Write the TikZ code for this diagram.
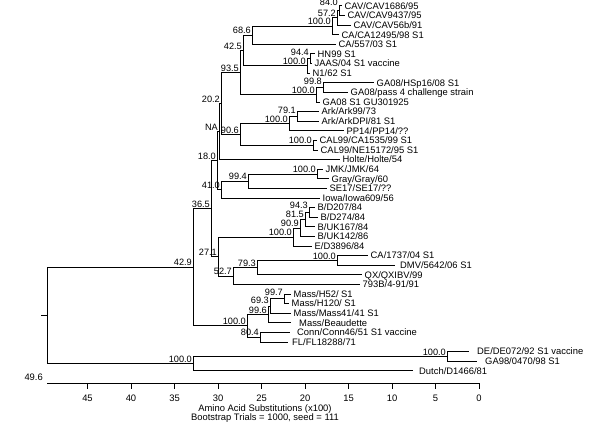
\documentclass[tikz,border=0pt]{standalone}
\usepackage{fontspec}
\setmainfont{Liberation Sans}
\begin{document}
\begin{tikzpicture}[x=1pt,y=-1pt,
  every node/.style={font=\fontsize{9.4}{10}\selectfont},
  leaf/.style={anchor=west, inner xsep=2.5pt, inner ysep=0pt, text height=6.73pt, text depth=0pt},
  bs/.style={anchor=south east, inner xsep=1pt, inner ysep=1.2pt, text height=6.6pt, text depth=0pt, font=\fontsize{9.2}{10}\selectfont},
  br/.style={line width=1pt},
]
\useasboundingbox (0,0) rectangle (600,428);

% leaves
\node[leaf] (L1) at (342,6) {CAV/CAV1686/95};
\node[leaf] (L2) at (345,15.6) {CAV/CAV9437/95};
\node[leaf] (L3) at (351,25.2) {CAV/CAV56b/91};
\node[leaf] (L4) at (339,34.8) {CA/CA12495/98 S1};
\node[leaf] (L5) at (336,44.4) {CA/557/03 S1};
\node[leaf] (L6) at (315,54) {HN99 S1};
\node[leaf] (L7) at (312,63.6) {JAAS/04 S1 vaccine};
\node[leaf] (L8) at (310,73.2) {N1/62 S1};
\node[leaf] (L9) at (374,82.8) {GA08/HSp16/08 S1};
\node[leaf] (L10) at (348,92.4) {GA08/pass 4 challenge strain};
\node[leaf] (L11) at (320,102) {GA08 S1 GU301925};
\node[leaf] (L12) at (319,111.6) {Ark/Ark99/73};
\node[leaf] (L13) at (319,121.2) {Ark/ArkDPI/81 S1};
\node[leaf] (L14) at (344,130.8) {PP14/PP14/??};
\node[leaf] (L15) at (317,140.4) {CAL99/CA1535/99 S1};
\node[leaf] (L16) at (318,150) {CAL99/NE15172/95 S1};
\node[leaf] (L17) at (340,159.6) {Holte/Holte/54};
\node[leaf] (L18) at (323,169.2) {JMK/JMK/64};
\node[leaf] (L19) at (329,178.8) {Gray/Gray/60};
\node[leaf] (L20) at (327,188.4) {SE17/SE17/??};
\node[leaf] (L21) at (320,198) {Iowa/Iowa609/56};
\node[leaf] (L22) at (315,207.6) {B/D207/84};
\node[leaf] (L23) at (318,217.2) {B/D274/84};
\node[leaf] (L24) at (315,226.8) {B/UK167/84};
\node[leaf] (L25) at (315,236.4) {B/UK142/86};
\node[leaf] (L26) at (312,246) {E/D3896/84};
\node[leaf] (L27) at (368,255.6) {CA/1737/04 S1};
\node[leaf, inner xsep=5pt] (L28) at (395,265.2) {DMV/5642/06 S1};
\node[leaf] (L29) at (362,274.8) {QX/QXIBV/99};
\node[leaf] (L30) at (360,284.4) {793B/4-91/91};
\node[leaf] (L31) at (291,294) {Mass/H52/ S1};
\node[leaf] (L32) at (289,303.6) {Mass/H120/ S1};
\node[leaf] (L33) at (291,313.2) {Mass/Mass41/41 S1};
\node[leaf, inner xsep=8pt] (L34) at (291,322.8) {Mass/Beaudette};
\node[leaf, inner xsep=7pt] (L35) at (290,332.4) {Conn/Conn46/51 S1 vaccine};
\node[leaf, inner xsep=4pt] (L36) at (288,342) {FL/FL18288/71};
\node[leaf, inner xsep=8pt] (L37) at (469,351.6) {DE/DE072/92 S1 vaccine};
\node[leaf, inner xsep=8pt] (L38) at (477,361.2) {GA98/0470/98 S1};
\node[leaf, inner xsep=6pt] (L39) at (413,370.8) {Dutch/D1466/81};

% internal nodes
\coordinate (root) at (47,315.3);
\coordinate (rt) at (41,315.3);
\coordinate (n429) at (193,267.2);
\coordinate (n100bot) at (193,363.6);
\coordinate (n100de) at (447,356.4);
\coordinate (n365) at (211,208.55);
\coordinate (n180) at (217,160.6);
\coordinate (nNA) at (219,131.6);
\coordinate (n202) at (221,103.6);
\coordinate (n935) at (240,72.75);
\coordinate (n425) at (243,50.7);
\coordinate (n686) at (252,35.4);
\coordinate (n100cav) at (332,26.4);
\coordinate (n572) at (337,18);
\coordinate (n840) at (339,10.8);
\coordinate (n100jaas) at (307,66);
\coordinate (n944) at (310,58.8);
\coordinate (n100ga) at (316,94.8);
\coordinate (n998) at (323,87.6);
\coordinate (n906) at (240,134.4);
\coordinate (n100ark) at (289,123.6);
\coordinate (n791) at (297,116.4);
\coordinate (n100cal) at (313,145.2);
\coordinate (n410) at (221,189.6);
\coordinate (n994) at (248,181.2);
\coordinate (n100jmk) at (317,174);
\coordinate (n271) at (218,256.5);
\coordinate (n100b) at (293,237);
\coordinate (n909) at (300,228);
\coordinate (n815) at (305,219.6);
\coordinate (n943) at (309,212.4);
\coordinate (n527) at (233,276);
\coordinate (n793) at (257,267.6);
\coordinate (n100ca) at (337,260.4);
\coordinate (n100mass) at (247,325.8);
\coordinate (n996) at (268,314.4);
\coordinate (n693) at (270,306);
\coordinate (n997) at (284,298.8);
\coordinate (n804) at (260,337.2);

% bootstrap labels
\node[anchor=east, inner sep=1pt] (b496) at (44,377) {49.6};
\node[bs] (b429) at (n429) {42.9};
\node[bs] (b100bot) at (n100bot) {100.0};
\node[bs] (b100de) at (n100de) {100.0};
\node[bs] (b365) at (n365) {36.5};
\node[bs] (b180) at (n180) {18.0};
\node[bs] (bNA) at (nNA) {NA};
\node[bs] (b202) at (n202) {20.2};
\node[bs] (b935) at (n935) {93.5};
\node[bs] (b425) at (n425) {42.5};
\node[bs] (b686) at (n686) {68.6};
\node[bs] (b100cav) at (n100cav) {100.0};
\node[bs] (b572) at (n572) {57.2};
\node[bs, yshift=3.5pt] (b840) at (n840) {84.0};
\node[bs] (b100jaas) at (n100jaas) {100.0};
\node[bs, yshift=2pt] (b944) at (n944) {94.4};
\node[bs] (b100ga) at (n100ga) {100.0};
\node[bs, yshift=1.5pt] (b998) at (n998) {99.8};
\node[bs] (b906) at (n906) {90.6};
\node[bs] (b100ark) at (n100ark) {100.0};
\node[bs, yshift=1.5pt] (b791) at (n791) {79.1};
\node[bs] (b100cal) at (n100cal) {100.0};
\node[bs] (b410) at (n410) {41.0};
\node[bs] (b994) at (n994) {99.4};
\node[bs] (b100jmk) at (n100jmk) {100.0};
\node[bs] (b271) at (n271) {27.1};
\node[bs] (b100b) at (n100b) {100.0};
\node[bs] (b909) at (n909) {90.9};
\node[bs, yshift=1pt] (b815) at (n815) {81.5};
\node[bs, yshift=2.5pt] (b943) at (n943) {94.3};
\node[bs] (b527) at (n527) {52.7};
\node[bs] (b793) at (n793) {79.3};
\node[bs] (b100ca) at (n100ca) {100.0};
\node[bs] (b100mass) at (n100mass) {100.0};
\node[bs] (b996) at (n996) {99.6};
\node[bs, yshift=1pt] (b693) at (n693) {69.3};
\node[bs, yshift=2pt] (b997) at (n997) {99.7};
\node[bs] (b804) at (n804) {80.4};

% branches
\begin{scope}[br]
\draw (rt) -- (root);
\draw (root) |- (n429); \draw (root) |- (n100bot);
\draw (n100bot) |- (n100de); \draw (n100bot) |- (L39.west);
\draw (n100de) |- (L37.west); \draw (n100de) |- (L38.west);
\draw (n429) |- (n365); \draw (n429) |- (n100mass);
\draw (n365) |- (n180); \draw (n365) |- (n271);
\draw (n180) |- (nNA); \draw (n180) |- (n410);
\draw (nNA) |- (n202); \draw (nNA) |- (L17.west);
\draw (n202) |- (n935); \draw (n202) |- (n906);
\draw (n935) |- (n425); \draw (n935) |- (n100ga);
\draw (n425) |- (n686); \draw (n425) |- (n100jaas);
\draw (n686) |- (n100cav); \draw (n686) |- (L5.west);
\draw (n100cav) |- (n572); \draw (n100cav) |- (L4.west);
\draw (n572) |- (n840); \draw (n572) |- (L3.west);
\draw (n840) |- (L1.west); \draw (n840) |- (L2.west);
\draw (n100jaas) |- (n944); \draw (n100jaas) |- (L8.west);
\draw (n944) |- (L6.west); \draw (n944) |- (L7.west);
\draw (n100ga) |- (n998); \draw (n100ga) |- (L11.west);
\draw (n998) |- (L9.west); \draw (n998) |- (L10.west);
\draw (n906) |- (n100ark); \draw (n906) |- (n100cal);
\draw (n100ark) |- (n791); \draw (n100ark) |- (L14.west);
\draw (n791) |- (L12.west); \draw (n791) |- (L13.west);
\draw (n100cal) |- (L15.west); \draw (n100cal) |- (L16.west);
\draw (n410) |- (n994); \draw (n410) |- (L21.west);
\draw (n994) |- (n100jmk); \draw (n994) |- (L20.west);
\draw (n100jmk) |- (L18.west); \draw (n100jmk) |- (L19.west);
\draw (n271) |- (n100b); \draw (n271) |- (n527);
\draw (n100b) |- (n909); \draw (n100b) |- (L26.west);
\draw (n909) |- (n815); \draw (n909) |- (L25.west);
\draw (n815) |- (n943); \draw (n815) |- (L24.west);
\draw (n943) |- (L22.west); \draw (n943) |- (L23.west);
\draw (n527) |- (n793); \draw (n527) |- (L30.west);
\draw (n793) |- (n100ca); \draw (n793) |- (L29.west);
\draw (n100ca) |- (L27.west); \draw (n100ca) |- (L28.west);
\draw (n100mass) |- (n996); \draw (n100mass) |- (n804);
\draw (n996) |- (n693); \draw (n996) |- (L34.west);
\draw (n693) |- (n997); \draw (n693) |- (L33.west);
\draw (n997) |- (L31.west); \draw (n997) |- (L32.west);
\draw (n804) |- (L35.west); \draw (n804) |- (L36.west);
\end{scope}

% axis
\draw[br] (47,383) -- (479,383);
\foreach \v in {0,5,...,45} {
  \draw[br] ({479-8.7*\v},383) -- ({479-8.7*\v},388.5);
  \node[inner sep=0pt] (t\v) at ({479-8.7*\v},398) {\v};
}
\node[inner sep=0pt] (axt) at (265,409) {Amino Acid Substitutions (x100)};
\node[inner sep=0pt] (bst) at (265,418.5) {Bootstrap Trials = 1000, seed = 111};
\end{tikzpicture}
\end{document}
